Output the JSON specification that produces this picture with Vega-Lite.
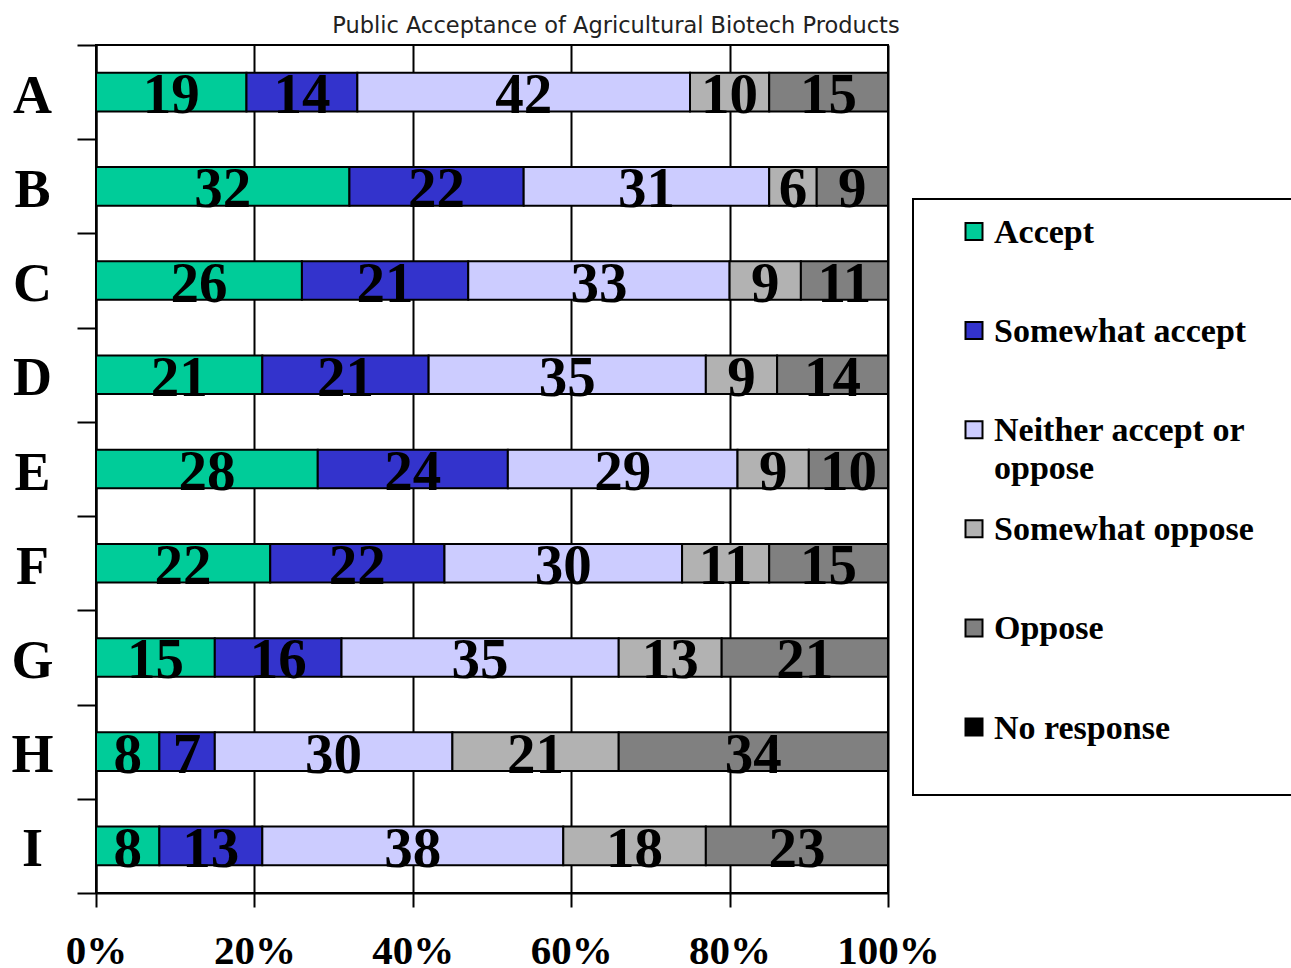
{
  "$schema": "https://vega.github.io/schema/vega-lite/v6.json",
  "autosize": {"type": "none"},
  "padding": {"left": 96, "top": 45, "right": 403, "bottom": 75},
  "width": 792,
  "height": 848,
  "background": "white",
  "config": {
    "view": {"stroke": "black", "strokeWidth": 2},
    "axis": {"domainColor": "black", "domainWidth": 2, "tickColor": "black", "tickWidth": 2, "labelColor": "black"}
  },
  "data": {
    "values": [
      {"cat": "A", "resp": "Accept", "ord": 0, "value": 19},
      {"cat": "A", "resp": "Somewhat accept", "ord": 1, "value": 14},
      {"cat": "A", "resp": "Neither accept or oppose", "ord": 2, "value": 42},
      {"cat": "A", "resp": "Somewhat oppose", "ord": 3, "value": 10},
      {"cat": "A", "resp": "Oppose", "ord": 4, "value": 15},
      {"cat": "B", "resp": "Accept", "ord": 0, "value": 32},
      {"cat": "B", "resp": "Somewhat accept", "ord": 1, "value": 22},
      {"cat": "B", "resp": "Neither accept or oppose", "ord": 2, "value": 31},
      {"cat": "B", "resp": "Somewhat oppose", "ord": 3, "value": 6},
      {"cat": "B", "resp": "Oppose", "ord": 4, "value": 9},
      {"cat": "C", "resp": "Accept", "ord": 0, "value": 26},
      {"cat": "C", "resp": "Somewhat accept", "ord": 1, "value": 21},
      {"cat": "C", "resp": "Neither accept or oppose", "ord": 2, "value": 33},
      {"cat": "C", "resp": "Somewhat oppose", "ord": 3, "value": 9},
      {"cat": "C", "resp": "Oppose", "ord": 4, "value": 11},
      {"cat": "D", "resp": "Accept", "ord": 0, "value": 21},
      {"cat": "D", "resp": "Somewhat accept", "ord": 1, "value": 21},
      {"cat": "D", "resp": "Neither accept or oppose", "ord": 2, "value": 35},
      {"cat": "D", "resp": "Somewhat oppose", "ord": 3, "value": 9},
      {"cat": "D", "resp": "Oppose", "ord": 4, "value": 14},
      {"cat": "E", "resp": "Accept", "ord": 0, "value": 28},
      {"cat": "E", "resp": "Somewhat accept", "ord": 1, "value": 24},
      {"cat": "E", "resp": "Neither accept or oppose", "ord": 2, "value": 29},
      {"cat": "E", "resp": "Somewhat oppose", "ord": 3, "value": 9},
      {"cat": "E", "resp": "Oppose", "ord": 4, "value": 10},
      {"cat": "F", "resp": "Accept", "ord": 0, "value": 22},
      {"cat": "F", "resp": "Somewhat accept", "ord": 1, "value": 22},
      {"cat": "F", "resp": "Neither accept or oppose", "ord": 2, "value": 30},
      {"cat": "F", "resp": "Somewhat oppose", "ord": 3, "value": 11},
      {"cat": "F", "resp": "Oppose", "ord": 4, "value": 15},
      {"cat": "G", "resp": "Accept", "ord": 0, "value": 15},
      {"cat": "G", "resp": "Somewhat accept", "ord": 1, "value": 16},
      {"cat": "G", "resp": "Neither accept or oppose", "ord": 2, "value": 35},
      {"cat": "G", "resp": "Somewhat oppose", "ord": 3, "value": 13},
      {"cat": "G", "resp": "Oppose", "ord": 4, "value": 21},
      {"cat": "H", "resp": "Accept", "ord": 0, "value": 8},
      {"cat": "H", "resp": "Somewhat accept", "ord": 1, "value": 7},
      {"cat": "H", "resp": "Neither accept or oppose", "ord": 2, "value": 30},
      {"cat": "H", "resp": "Somewhat oppose", "ord": 3, "value": 21},
      {"cat": "H", "resp": "Oppose", "ord": 4, "value": 34},
      {"cat": "I", "resp": "Accept", "ord": 0, "value": 8},
      {"cat": "I", "resp": "Somewhat accept", "ord": 1, "value": 13},
      {"cat": "I", "resp": "Neither accept or oppose", "ord": 2, "value": 38},
      {"cat": "I", "resp": "Somewhat oppose", "ord": 3, "value": 18},
      {"cat": "I", "resp": "Oppose", "ord": 4, "value": 23}
    ]
  },
  "encoding": {
    "y": {
      "field": "cat",
      "type": "nominal",
      "sort": null,
      "scale": {"paddingInner": 0, "paddingOuter": 0},
      "axis": {
        "title": null,
        "grid": false,
        "tickBand": "extent",
        "tickSize": 19,
        "labelFont": "Liberation Serif",
        "labelFontWeight": "bold",
        "labelFontSize": 54,
        "labelAlign": "center",
        "labelBaseline": "alphabetic",
        "labelPadding": 45,
        "labelOffset": 20
      }
    }
  },
  "resolve": {"axis": {"x": "independent"}},
  "layer": [
    {
      "mark": {"type": "bar", "stroke": "black", "strokeWidth": 2, "height": {"band": 0.41}},
      "encoding": {
        "x": {
          "field": "value",
          "type": "quantitative",
          "stack": "zero",
          "scale": {"domain": [0, 100], "nice": false},
          "axis": {
            "title": null,
            "values": [0, 20, 40, 60, 80, 100],
            "labelExpr": "datum.value + '%'",
            "grid": true,
            "gridColor": "black",
            "gridWidth": 2,
            "gridOpacity": 1,
            "tickSize": 14,
            "labelFont": "Liberation Serif",
            "labelFontWeight": "bold",
            "labelFontSize": 41,
            "labelBaseline": "alphabetic",
            "labelPadding": 56,
            "labelFlush": false,
            "labelOverlap": false,
            "labelBound": false
          }
        },
        "color": {
          "field": "resp",
          "type": "nominal",
          "scale": {
            "domain": ["Accept", "Somewhat accept", "Neither accept or oppose", "Somewhat oppose", "Oppose", "No response"],
            "range": ["#00CC99", "#3333CC", "#CCCCFF", "#B2B2B2", "#808080", "#000000"]
          },
          "legend": {
            "title": null,
            "orient": "none",
            "legendX": 817,
            "legendY": 154,
            "padding": 2,
            "clipHeight": 96,
            "rowPadding": 3.1,
            "symbolType": "square",
            "symbolSize": 289,
            "symbolStrokeColor": "black",
            "symbolStrokeWidth": 2,
            "labelFont": "Liberation Serif",
            "labelFontWeight": "bold",
            "labelFontSize": 34,
            "labelColor": "black",
            "labelBaseline": "alphabetic",
            "labelLimit": 400,
            "labelExpr": "datum.label == 'Neither accept or oppose' ? ['Neither accept or', 'oppose'] : datum.label",
            "encode": {
              "legend": {"update": {"stroke": {"value": "black"}, "strokeWidth": {"value": 2}, "fill": {"value": "white"}}},
              "symbols": {"update": {"x": {"value": 59}, "y": {"value": 30.5}}},
              "labels": {"update": {"x": {"value": 79}, "y": {"value": 42}, "lineHeight": {"value": 38}}},
              "entries": {"update": {"clip": {"value": true}, "width": {"value": 400}}}
            }
          }
        },
        "order": {"field": "ord", "type": "quantitative"}
      }
    },
    {
      "mark": {"type": "text", "font": "Liberation Serif", "fontWeight": "bold", "fontSize": 57, "color": "black", "baseline": "alphabetic", "align": "center", "dy": 21},
      "encoding": {
        "x": {
          "field": "value",
          "type": "quantitative",
          "stack": "zero",
          "bandPosition": 0.5,
          "axis": {
            "orient": "top",
            "title": "Public Acceptance of Agricultural Biotech Products",
            "titleFont": "DejaVu Sans",
            "titleFontSize": 22.5,
            "titleFontWeight": "normal",
            "titleColor": "#222222",
            "titleX": 519.5,
            "titleY": -13,
            "titleAlign": "center",
            "titleBaseline": "alphabetic",
            "labels": false,
            "ticks": false,
            "domain": false,
            "grid": false
          }
        },
        "detail": {"field": "resp", "type": "nominal"},
        "order": {"field": "ord", "type": "quantitative"},
        "text": {"field": "value", "type": "quantitative"}
      }
    }
  ]
}
